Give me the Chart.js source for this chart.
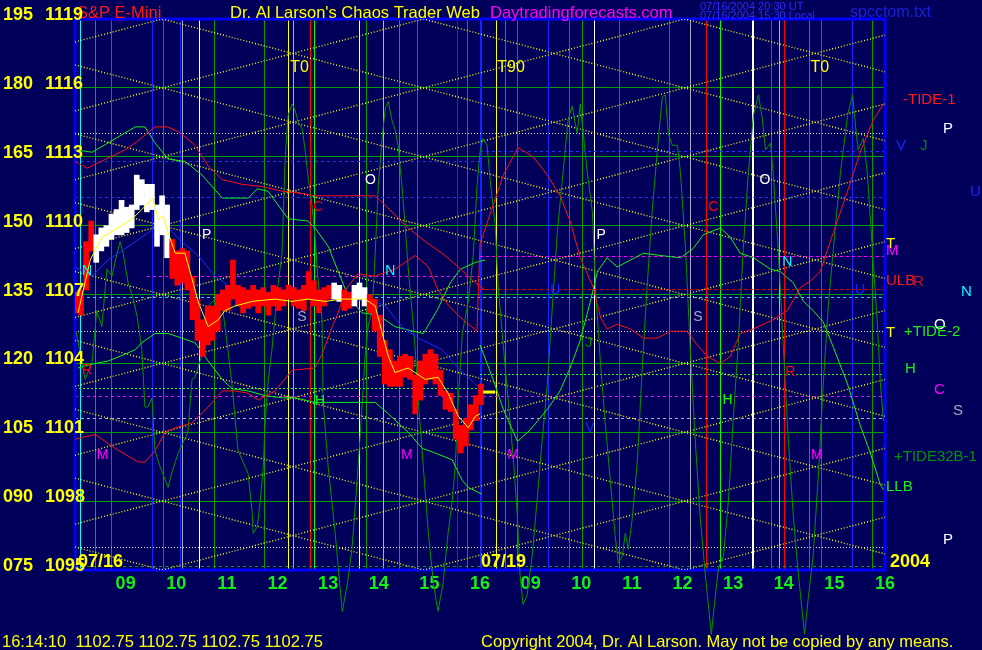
<!DOCTYPE html>
<html>
<head>
<meta charset="utf-8">
<script src="https://cdn.jsdelivr.net/npm/chart.js@4.4.1/dist/chart.umd.min.js"></script>
<style>
  html, body { margin: 0; padding: 0; background: #00005a; }
  #chart { display: block; }
</style>
</head>
<body>
<canvas id="chart" width="982" height="650"></canvas>
<script>
// session hours: 0 = 08:00 on 07/16, 8 = 16:00 on 07/16 / 08:00 on 07/19, 16 = 16:00 on 07/19
const xTickLabels = ['09', '10', '11', '12', '13', '14', '15', '16', '09', '10', '11', '12', '13', '14', '15', '16'];
const yTickLeft = ['195', '180', '165', '150', '135', '120', '105', '090', '075'];
const yTickRight = [1119, 1116, 1113, 1110, 1107, 1104, 1101, 1098, 1095];

// S&P E-Mini price bars, one every 6 minutes from 08:01 on 07/16
const barStartHour = 0.02;
const barStepHour = 0.1;
const barLow = [
  1106.2, 1106.1, 1107.2, 1108.9, 1108.4, 1108.9, 1109.1, 1109.4, 1109.6, 1109.6,
  1109.7, 1109.9, 1110.7, 1110.9, 1110.6, 1110.7, 1109.1, 1109.6, 1108.6, 1107.7,
  1107.4, 1107.5, 1107.2, 1105.9, 1105.0, 1104.3, 1104.8, 1105.0, 1105.4, 1106.3,
  1106.3, 1106.8, 1106.5, 1106.2, 1106.4, 1106.5, 1106.2, 1106.5, 1106.1, 1106.5,
  1106.3, 1106.5, 1106.8, 1106.5, 1106.4, 1106.3, 1106.8, 1106.5, 1106.2, 1106.5,
  1106.8, 1106.8, 1106.7, 1106.3, 1106.4, 1106.5, 1106.8, 1106.5, 1106.2, 1105.4,
  1104.3, 1103.1, 1103.0, 1103.0, 1103.0, 1103.4, 1103.3, 1101.8, 1102.4, 1103.1,
  1103.3, 1103.1, 1102.6, 1102.0, 1101.9, 1100.7, 1100.1, 1100.4, 1101.1, 1101.5,
  1102.2
];
const barHigh = [
  1107.1, 1107.2, 1109.3, 1110.2, 1109.6, 1109.9, 1110.0, 1110.5, 1110.7, 1111.1,
  1110.8, 1110.9, 1112.2, 1112.0, 1111.8, 1111.8, 1110.9, 1111.3, 1110.9, 1109.4,
  1108.9, 1109.0, 1108.9, 1107.8, 1106.8, 1105.9, 1106.5, 1106.5, 1107.0, 1107.2,
  1107.4, 1108.5, 1107.4, 1107.3, 1107.2, 1107.4, 1107.2, 1107.3, 1107.1, 1107.4,
  1107.3, 1107.2, 1107.4, 1107.3, 1107.2, 1107.4, 1108.0, 1107.6, 1107.2, 1107.3,
  1107.4, 1107.5, 1107.4, 1107.2, 1107.1, 1107.4, 1107.5, 1107.3, 1107.0, 1106.8,
  1106.1, 1105.0, 1104.6, 1104.1, 1104.3, 1104.4, 1104.3, 1103.5, 1104.1, 1104.4,
  1104.6, 1104.4, 1103.7, 1102.8, 1102.7, 1102.0, 1101.3, 1101.6, 1102.2, 1102.6,
  1103.1
];
const lastPrice = 1102.75;

// [hour, price]
const priceAverage = [
  [0.06, 1106.2], [0.30, 1108.5], [0.53, 1109.5], [0.85, 1109.9], [1.13, 1110.3], [1.32, 1110.7],
  [1.54, 1111.2], [1.64, 1110.3], [1.74, 1110.4], [1.84, 1109.7], [1.98, 1108.8], [2.17, 1108.8],
  [2.31, 1107.7], [2.43, 1106.7], [2.63, 1105.6], [2.83, 1105.9], [2.96, 1106.3], [3.16, 1106.5],
  [3.50, 1106.7], [3.95, 1106.8], [4.29, 1106.7], [4.60, 1106.8], [4.94, 1106.7], [5.28, 1106.8],
  [5.73, 1106.8], [5.93, 1106.5], [6.07, 1105.3], [6.19, 1104.3], [6.32, 1103.6], [6.58, 1103.8],
  [6.92, 1103.3], [7.17, 1103.4], [7.37, 1102.7], [7.57, 1101.7], [7.77, 1101.2], [7.91, 1101.7],
  [8.00, 1101.8]
];
const blueCurve = [
  [0.00, 1108.2], [0.34, 1107.8], [0.65, 1108.5], [0.99, 1109.0], [1.32, 1109.5], [1.58, 1109.9],
  [1.84, 1109.9], [2.11, 1109.3], [2.43, 1108.7], [2.77, 1107.8], [3.02, 1107.4], [3.30, 1107.2],
  [3.70, 1107.1], [4.60, 1106.9], [5.93, 1106.7], [6.13, 1106.5], [6.46, 1105.6], [6.78, 1105.1],
  [7.25, 1104.6], [7.57, 1103.8], [7.91, 1103.1], [8.04, 1102.8]
];
const redUpper = [
  [0.00, 1112.8], [0.24, 1112.5], [0.99, 1113.3], [1.19, 1113.6], [1.58, 1114.3], [1.82, 1114.3],
  [2.04, 1114.1], [2.37, 1113.5], [2.63, 1112.6], [2.91, 1112.0], [3.30, 1111.8], [3.70, 1111.7],
  [4.09, 1111.5], [4.49, 1111.4], [4.74, 1111.3], [5.28, 1111.3], [5.93, 1111.3], [6.26, 1110.6],
  [6.58, 1109.9], [6.92, 1109.3], [7.25, 1108.8], [7.57, 1108.2], [7.91, 1107.5], [8.10, 1107.2]
];
const tideMinus1 = [
  [0.00, 1100.7], [0.40, 1100.9], [0.79, 1100.3], [1.25, 1099.7], [1.38, 1099.7], [1.58, 1100.2],
  [1.78, 1101.0], [1.98, 1101.2], [2.31, 1101.4], [2.63, 1102.1], [2.91, 1102.8], [3.16, 1102.8],
  [3.42, 1102.7], [3.62, 1102.4], [3.95, 1102.8], [4.29, 1103.7], [4.74, 1103.8], [4.88, 1104.4],
  [5.08, 1105.6], [5.20, 1106.2], [5.34, 1107.2], [5.59, 1107.9], [5.93, 1107.8], [6.32, 1108.1],
  [6.72, 1108.7], [6.98, 1108.2], [7.15, 1107.3], [7.35, 1106.6], [7.61, 1106.0], [7.94, 1105.4],
  [8.00, 1109.2], [8.46, 1112.2], [8.75, 1113.4], [9.05, 1113.0], [9.33, 1112.2], [9.58, 1111.3],
  [9.78, 1110.2], [9.98, 1108.6], [10.24, 1107.3], [10.38, 1106.0], [10.51, 1105.5], [10.71, 1105.7],
  [10.97, 1105.5], [11.23, 1105.1], [11.50, 1105.1], [11.76, 1105.4], [12.09, 1105.4], [12.29, 1104.8],
  [12.49, 1104.3], [12.75, 1104.0], [12.94, 1104.3], [13.14, 1105.3], [13.40, 1105.5], [13.79, 1105.9],
  [14.07, 1106.3], [14.33, 1107.3], [14.53, 1107.6], [14.72, 1108.0], [14.98, 1109.7], [15.26, 1111.5],
  [15.51, 1113.2], [15.77, 1114.6], [15.97, 1115.3]
];
const greenUpper = [
  [0.00, 1113.3], [0.34, 1113.2], [0.65, 1113.6], [1.19, 1114.3], [1.38, 1114.3], [1.58, 1113.6],
  [1.84, 1112.9], [2.17, 1112.8], [2.51, 1112.2], [2.91, 1111.2], [3.42, 1111.2], [3.60, 1111.6],
  [3.81, 1111.5], [4.21, 1110.3], [4.60, 1110.2], [4.74, 1109.9], [5.00, 1109.1], [5.20, 1108.0],
  [5.40, 1106.9], [5.67, 1106.2], [5.99, 1106.1], [6.32, 1105.6], [6.68, 1105.4], [6.88, 1105.3],
  [7.15, 1106.3], [7.41, 1107.5], [7.61, 1108.1], [7.91, 1108.4], [8.10, 1108.5]
];
const greenLower = [
  [0.06, 1103.8], [0.40, 1104.0], [0.65, 1104.1], [0.99, 1104.4], [1.19, 1104.6], [1.32, 1104.9],
  [1.58, 1105.3], [1.84, 1105.3], [2.11, 1105.1], [2.37, 1104.9], [2.63, 1104.1], [2.91, 1103.3],
  [3.10, 1102.9], [3.42, 1102.8], [3.75, 1102.6], [4.09, 1102.5], [4.35, 1102.5], [4.74, 1102.3],
  [5.00, 1102.3], [5.40, 1102.3], [5.93, 1102.3], [6.19, 1101.8], [6.58, 1101.0], [6.86, 1100.3],
  [7.11, 1100.1], [7.45, 1099.8], [7.65, 1098.9], [7.77, 1098.6], [8.04, 1098.3]
];
const greenLowerDay2 = [
  [8.00, 1104.8], [8.26, 1103.3], [8.46, 1102.0], [8.74, 1100.6], [8.99, 1101.1], [9.33, 1102.0],
  [9.58, 1102.8], [9.78, 1103.8], [9.98, 1105.0], [10.18, 1106.7], [10.32, 1108.0], [10.51, 1108.6],
  [10.71, 1108.2], [10.97, 1108.5], [11.23, 1108.8], [11.56, 1108.7], [11.96, 1108.6], [12.21, 1109.0],
  [12.41, 1109.6], [12.75, 1109.9], [12.94, 1109.5], [13.14, 1108.8], [13.40, 1108.6], [13.74, 1108.1],
  [13.93, 1108.0], [14.19, 1107.5], [14.39, 1106.7], [14.58, 1106.3], [14.78, 1105.8], [14.98, 1104.7],
  [15.26, 1103.1], [15.51, 1101.3], [15.71, 1100.1], [15.91, 1098.7], [15.97, 1098.5]
];
const tideOscillator = [
  [0.02, 1105.4], [0.20, 1103.3], [0.34, 1104.1], [0.43, 1106.3], [0.53, 1105.6], [0.63, 1108.1],
  [0.73, 1107.8], [0.83, 1108.8], [0.89, 1109.3], [0.95, 1108.8], [1.05, 1107.5], [1.15, 1106.8],
  [1.23, 1106.0], [1.32, 1104.6], [1.38, 1102.1], [1.44, 1102.1], [1.52, 1102.5], [1.58, 1100.2],
  [1.68, 1099.5], [1.84, 1098.6], [1.92, 1099.3], [2.04, 1100.1], [2.23, 1101.0], [2.31, 1103.3],
  [2.37, 1103.4], [2.51, 1104.4], [2.63, 1106.5], [2.77, 1106.8], [2.91, 1106.5], [3.02, 1104.6],
  [3.10, 1103.1], [3.22, 1100.2], [3.36, 1099.5], [3.42, 1099.2], [3.50, 1097.5], [3.52, 1096.6],
  [3.60, 1096.9], [3.66, 1098.0], [3.72, 1099.5], [3.75, 1101.2], [3.81, 1103.1], [3.89, 1104.6],
  [3.95, 1106.0], [4.01, 1107.4], [4.09, 1108.8], [4.15, 1112.9], [4.21, 1114.8], [4.29, 1115.3],
  [4.35, 1115.0], [4.41, 1114.5], [4.49, 1114.2], [4.55, 1113.2], [4.60, 1112.2], [4.68, 1110.9],
  [4.74, 1109.5], [4.80, 1107.7], [4.88, 1105.9], [4.90, 1102.4], [5.00, 1099.5], [5.14, 1096.6],
  [5.20, 1095.1], [5.28, 1093.2], [5.38, 1094.4], [5.47, 1095.9], [5.57, 1098.8], [5.67, 1102.1],
  [5.73, 1104.3], [5.79, 1105.6], [5.87, 1106.3], [5.93, 1108.8], [5.99, 1111.7], [6.07, 1113.9],
  [6.13, 1115.1], [6.19, 1115.4], [6.26, 1114.6], [6.32, 1114.2], [6.38, 1113.5], [6.46, 1111.7],
  [6.52, 1110.0], [6.58, 1108.2], [6.66, 1106.2], [6.72, 1104.6], [6.78, 1102.4], [6.88, 1099.5],
  [6.98, 1096.6], [7.08, 1094.4], [7.17, 1093.2], [7.27, 1094.4], [7.37, 1096.6], [7.45, 1098.0],
  [7.51, 1099.5], [7.57, 1102.4], [7.65, 1105.3], [7.77, 1106.7], [7.87, 1108.8], [7.94, 1111.7],
  [8.00, 1113.2], [8.06, 1113.8], [8.14, 1113.5], [8.20, 1112.0], [8.30, 1110.0], [8.36, 1107.3],
  [8.46, 1104.8], [8.56, 1102.3], [8.66, 1099.8], [8.74, 1097.3], [8.79, 1094.8], [8.85, 1093.5],
  [8.93, 1093.9], [9.03, 1095.6], [9.13, 1098.1], [9.23, 1100.7], [9.33, 1103.1], [9.43, 1106.5],
  [9.53, 1109.8], [9.64, 1112.3], [9.74, 1114.6], [9.82, 1115.2], [9.92, 1114.0], [9.98, 1115.3],
  [10.04, 1114.0], [10.12, 1112.3], [10.22, 1110.6], [10.28, 1107.3], [10.38, 1104.0], [10.47, 1101.5],
  [10.57, 1099.0], [10.67, 1096.5], [10.73, 1095.3], [10.81, 1095.6], [10.87, 1096.6], [10.93, 1095.9],
  [11.01, 1097.3], [11.11, 1099.8], [11.21, 1104.0], [11.30, 1107.3], [11.40, 1110.6], [11.50, 1113.2],
  [11.60, 1115.6], [11.66, 1115.7], [11.72, 1114.0], [11.80, 1113.5], [11.90, 1113.5], [11.96, 1112.3],
  [12.06, 1109.0], [12.15, 1104.8], [12.25, 1100.7], [12.35, 1097.3], [12.45, 1094.8], [12.57, 1092.2],
  [12.65, 1093.9], [12.71, 1095.1], [12.81, 1095.6], [12.91, 1098.1], [13.00, 1101.5], [13.10, 1104.8],
  [13.20, 1109.0], [13.30, 1112.3], [13.40, 1114.8], [13.50, 1115.7], [13.58, 1114.6], [13.64, 1113.3],
  [13.74, 1113.6], [13.79, 1112.3], [13.89, 1109.0], [13.99, 1104.8], [14.09, 1100.7], [14.19, 1097.3],
  [14.29, 1094.8], [14.41, 1092.2], [14.49, 1093.9], [14.58, 1095.6], [14.68, 1099.0], [14.78, 1103.1],
  [14.88, 1106.5], [14.98, 1109.0], [15.12, 1112.3], [15.26, 1114.8], [15.36, 1115.7], [15.42, 1114.3],
  [15.47, 1113.3], [15.57, 1113.8], [15.65, 1112.3], [15.75, 1109.0], [15.85, 1105.7], [15.91, 1103.1],
  [15.97, 1101.5]
];

// angle lines: [price at hour 0, price at hour 16]
const angleLinesUp = [
  [1118.0, 1127.3], [1115.0, 1124.3], [1112.0, 1121.3], [1109.0, 1118.3], [1106.0, 1115.3],
  [1103.0, 1112.3], [1100.0, 1109.3], [1097.0, 1106.3], [1094.0, 1103.3], [1091.0, 1100.3],
  [1088.0, 1097.3]
];
const angleLinesDown = [
  [1126.0, 1116.7], [1123.0, 1113.7], [1120.0, 1110.7], [1117.0, 1107.7], [1114.0, 1104.7],
  [1111.0, 1101.7], [1108.0, 1098.7], [1105.0, 1095.7], [1102.0, 1092.7], [1099.0, 1089.7],
  [1096.0, 1086.7]
];
// price levels: [from hour, to hour, price]
const levelLines = [
  [0, 16, 1114.03], [0, 8, 1112.8], [8, 16, 1113.25], [0, 16, 1111.24], [1.42, 8, 1107.8],
  [8, 16, 1108.67], [8, 16, 1107.23], [0, 16, 1106.88], [0, 16, 1105.4], [0, 8, 1102.9],
  [8, 16, 1103.5], [0, 16, 1102.57], [0, 16, 1101.6], [0, 16, 1096.0], [0, 16, 1095.15]
];
// time markers (hours)
const markerHours = [
  0.10, 0.41, 0.73, 1.54, 1.74, 2.08, 2.13, 2.45, 2.75, 3.74, 4.21, 4.31, 4.66, 4.74,
  5.61, 5.75, 6.09, 6.40, 6.76, 7.55, 7.75, 8.02, 8.32, 8.50, 8.74, 9.35, 9.76, 10.02,
  10.26, 10.75, 11.74, 12.15, 12.47, 12.75, 13.40, 13.75, 13.91, 14.01, 14.51, 14.74,
  15.36, 15.75
];

// ---- styles ----
const FONT = "'Liberation Sans', Arial, sans-serif";
const BG = '#00005a';
const GREEN = '#009c00';
const LIME = '#14f014';
const C = { c: '#00ffff', m: '#ff00ff', g: GREEN, b: '#1426ff', a: '#a8a8c0', w: '#ffffff',
            y: '#ffff00', r: '#ff0000', l: '#00ff00' };
const markerColors = 'cmgbgbawggyarlwgcmgbgbymgbggwggarlwgcrmgbg'.split('');
const wideMarkers = [8.02, 13.40];
const levelStyles = [
  ['#e8e8e8', [1, 2]], ['#2030ff', [3, 3]], ['#2030ff', [3, 3]], ['#2030ff', [3, 3]], ['#ff00ff', [3, 3]],
  ['#ff00ff', [3, 3]], ['#e00000', [3, 3]], ['#00e0ff', [3, 3]], ['#e8e8e8', [1, 2]], ['#20ff20', [2, 2]],
  ['#20ff20', [2, 2]], ['#ff00ff', [3, 3]], ['#b0b0c8', [3, 3]], ['#e8e8e8', [1, 2]], ['#00a000', [3, 3]]
];
const whiteBarRanges = [[4, 18], [51, 52], [55, 57]];
const isWhiteBar = i => whiteBarRanges.some(([a, b]) => i >= a && i <= b);

const pts = pairs => pairs.map(([x, y]) => ({ x, y }));
const line = (data, color, order, extra) => Object.assign({
  type: 'line', data, borderColor: color, borderWidth: 1, pointRadius: 0, tension: 0, fill: false, order
}, extra || {});

const datasets = [];
angleLinesUp.concat(angleLinesDown).forEach(([p0, p1]) => {
  datasets.push(line([{ x: 0, y: p0 }, { x: 16, y: p1 }], '#ffff00', 50, { borderDash: [1, 2], borderWidth: 1.4 }));
});
datasets.push(line(pts(tideOscillator), '#009400', 32, { clip: false }));
datasets.push(line(pts(greenUpper), LIME, 30));
datasets.push(line(pts(greenLower), LIME, 30));
datasets.push(line(pts(greenLowerDay2), LIME, 30));
datasets.push(line(pts(redUpper), '#ff1010', 25));
datasets.push(line(pts(tideMinus1), '#ff1010', 25));
datasets.push(line(pts(blueCurve), '#1a2cff', 22));
datasets.push({
  type: 'bar',
  data: barLow.map((lo, i) => ({ x: barStartHour + barStepHour * i, y: [lo, barHigh[i]] })),
  backgroundColor: c => isWhiteBar(c.dataIndex) ? '#ffffff' : '#ff0000',
  borderWidth: 0, barThickness: 5, order: 10
});
datasets.push(line(pts(priceAverage), '#ffff00', 5));
datasets.push(line([{ x: 8.06, y: lastPrice }, { x: 8.30, y: lastPrice }], '#ffff00', 4, { borderWidth: 3 }));

const insideLabels = [
  ['T0', 4.25, 1116.9, '#ffff00', 16], ['T90', 8.34, 1116.9, '#ffff00', 16], ['T0', 14.53, 1116.9, '#ffff00', 16],
  ['O', 5.73, 1112.0, '#ffffff', 14], ['O', 13.52, 1112.0, '#ffffff', 14],
  ['P', 2.51, 1109.6, '#ffffff', 14], ['P', 10.30, 1109.6, '#ffffff', 14],
  ['N', 0.14, 1108.0, '#00ffff', 14], ['N', 6.13, 1108.0, '#00ffff', 14], ['N', 13.97, 1108.4, '#00ffff', 14],
  ['C', 4.70, 1110.8, '#ff0000', 14], ['C', 12.51, 1110.8, '#ff0000', 14],
  ['S', 4.39, 1106.0, '#a8a8c0', 14], ['S', 12.21, 1106.0, '#a8a8c0', 14],
  ['R', 0.14, 1103.7, '#ff0000', 14], ['R', 14.03, 1103.6, '#ff0000', 14],
  ['H', 4.74, 1102.35, '#00ff00', 14], ['H', 12.79, 1102.4, '#00ff00', 14],
  ['M', 0.43, 1100.0, '#ff00ff', 14], ['M', 6.44, 1100.0, '#ff00ff', 14],
  ['M', 8.54, 1100.0, '#ff00ff', 14], ['M', 14.54, 1100.0, '#ff00ff', 14],
  ['V', 10.08, 1101.2, '#1426ff', 14], ['U', 9.39, 1107.2, '#1426ff', 14], ['U', 15.40, 1107.2, '#1426ff', 14],
  ['J', 10.08, 1104.9, '#008800', 14]
];
const sideLabels = [
  ['-TIDE-1', 903, 100, '#ff1a1a'], ['P', 943, 129, '#ffffff'], ['V', 896, 146, '#1426ff'],
  ['J', 920, 146, '#008800'], ['U', 970, 192, '#1426ff'], ['T', 886, 244, '#ffff00'],
  ['M', 886, 251, '#ff00ff'], ['ULB', 886, 281, '#ff1a1a'], ['R', 913, 282, '#d01010'],
  ['N', 961, 292, '#00ffff'], ['O', 934, 325, '#ffffff'], ['T', 886, 333, '#ffff00'],
  ['+TIDE-2', 904, 332, '#14f014'], ['H', 905, 369, '#14f014'], ['C', 934, 390, '#ff00ff'],
  ['S', 953, 411, '#a8a8c0'], ['+TIDE32B-1', 894, 457, '#009400'], ['LLB', 886, 487, '#14f014'],
  ['P', 943, 540, '#ffffff']
];

const crisp = v => Math.round(v - 0.5) + 0.5;

const decor = {
  id: 'decor',
  beforeDraw(chart) {
    const c = chart.ctx;
    c.save();
    c.fillStyle = BG;
    c.fillRect(0, 0, chart.width, chart.height);
    c.restore();
  },
  beforeDatasetsDraw(chart) {
    const c = chart.ctx, a = chart.chartArea, xs = chart.scales.x, ys = chart.scales.y;
    c.save();
    c.lineWidth = 1;
    // price grid
    c.strokeStyle = GREEN;
    yTickRight.forEach(v => {
      const y = crisp(ys.getPixelForValue(v));
      c.beginPath(); c.moveTo(a.left, y); c.lineTo(a.right, y); c.stroke();
    });
    // time markers
    markerHours.forEach((h, i) => {
      const wide = wideMarkers.includes(h);
      const x = wide ? Math.round(xs.getPixelForValue(h)) : crisp(xs.getPixelForValue(h));
      c.lineWidth = wide ? 2 : 1;
      c.strokeStyle = C[markerColors[i]];
      c.beginPath(); c.moveTo(x, a.top); c.lineTo(x, a.bottom); c.stroke();
    });
    // price levels
    c.lineWidth = 1;
    levelLines.forEach(([h0, h1, p], i) => {
      const y = crisp(ys.getPixelForValue(p));
      c.strokeStyle = levelStyles[i][0];
      c.setLineDash(levelStyles[i][1]);
      c.beginPath(); c.moveTo(xs.getPixelForValue(h0), y); c.lineTo(xs.getPixelForValue(h1), y); c.stroke();
    });
    c.setLineDash([]);
    // frame
    c.strokeStyle = '#0000ff';
    c.lineWidth = 3;
    c.strokeRect(a.left, a.top, a.right - a.left, a.bottom - a.top);
    c.restore();
  },
  afterDraw(chart) {
    const c = chart.ctx, xs = chart.scales.x, ys = chart.scales.y;
    c.save();
    c.textAlign = 'left';
    c.textBaseline = 'alphabetic';
    // header
    c.font = `16.5px ${FONT}`;
    c.fillStyle = '#ff1a1a';
    c.fillText('S&P E-Mini', 77, 18);
    c.fillStyle = '#ffff00';
    c.fillText("Dr. Al Larson's Chaos Trader Web", 230, 18);
    c.fillStyle = '#ff00ff';
    c.fillText('Daytradingforecasts.com', 490, 18);
    c.font = `11px ${FONT}`;
    c.fillStyle = '#2a2aff';
    c.fillText('07/16/2004 20:30 UT', 700, 10);
    c.fillText('07/16/2004 15:30 Local', 700, 19);
    c.font = `16px ${FONT}`;
    c.fillStyle = '#1c1ce0';
    c.fillText('spcctom.txt', 850, 17);
    // y labels
    c.font = `bold 18px ${FONT}`;
    c.fillStyle = '#ffff00';
    yTickRight.forEach((v, i) => {
      const y = ys.getPixelForValue(v) + 1;
      c.fillText(yTickLeft[i], 3, y);
      c.fillText(String(v), 45, y);
    });
    // dates
    const dy = ys.getPixelForValue(1095) - 3;
    c.fillText('07/16', xs.getPixelForValue(0.06), dy);
    c.fillText('07/19', xs.getPixelForValue(8.02), dy);
    c.fillText('2004', xs.getPixelForValue(16.1), dy);
    // footer
    c.font = `16.5px ${FONT}`;
    c.fillText('16:14:10  1102.75 1102.75 1102.75 1102.75', 2, 647);
    c.fillText('Copyright 2004, Dr. Al Larson. May not be copied by any means.', 481, 647);
    // letters inside the plot
    c.textBaseline = 'middle';
    insideLabels.forEach(([t, h, p, col, size]) => {
      c.font = `${size}px ${FONT}`;
      c.fillStyle = col;
      c.fillText(t, xs.getPixelForValue(h), ys.getPixelForValue(p));
    });
    // labels right of the plot
    c.font = `15px ${FONT}`;
    sideLabels.forEach(([t, x, y, col]) => {
      c.fillStyle = col;
      c.fillText(t, x, y);
    });
    c.restore();
  }
};

new Chart(document.getElementById('chart').getContext('2d'), {
  type: 'line',
  data: { datasets },
  options: {
    responsive: false,
    animation: false,
    devicePixelRatio: 1,
    events: [],
    layout: { padding: { left: 0, top: 19, right: 97, bottom: 0 } },
    plugins: { legend: { display: false }, tooltip: { enabled: false } },
    scales: {
      x: {
        type: 'linear', min: 0, max: 16, offset: false,
        grid: { display: false, drawTicks: false },
        border: { display: false },
        afterBuildTicks: s => { s.ticks = xTickLabels.map((_, i) => ({ value: i + 1 })); },
        afterFit: s => { s.height = 80; },
        ticks: {
          autoSkip: false, maxRotation: 0, padding: 3, color: LIME,
          font: { family: FONT, size: 18, weight: 'bold' },
          callback: v => xTickLabels[Math.round(v) - 1] || ''
        }
      },
      y: {
        type: 'linear', min: 1095, max: 1119,
        afterFit: s => { s.width = 75; },
        ticks: { stepSize: 3, display: false },
        grid: { display: false, drawTicks: false },
        border: { display: false }
      }
    }
  },
  plugins: [decor]
});
</script>
</body>
</html>
